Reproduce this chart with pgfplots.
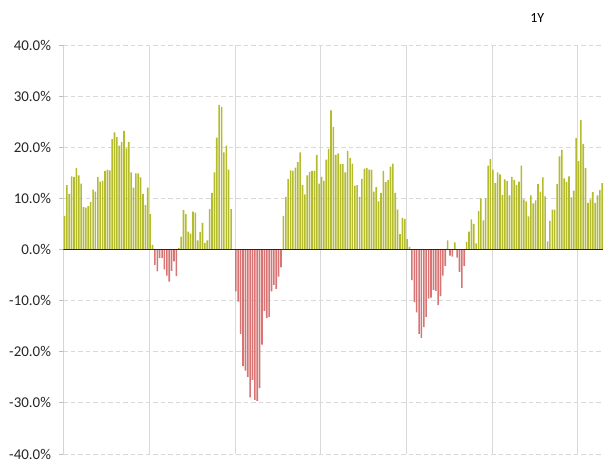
\documentclass[border=0pt]{standalone}
\usepackage{pgfplots}
\pgfplotsset{compat=1.18}
\usepackage{pgfplotstable}
\usepackage{fontspec}
\setmainfont{Carlito}
\definecolor{barG}{RGB}{180,188,45}
\definecolor{barR}{RGB}{216,116,116}
\definecolor{gridc}{RGB}{217,217,217}
\definecolor{axc}{RGB}{190,190,190}

\pgfplotstableread{
v
6.6
12.6
10.9
14.3
14.2
15.9
14.5
12.9
8.3
8.2
8.5
9.3
11.7
11.3
14.2
13.3
13.4
15.4
15.6
15.5
21.6
22.9
22.0
20.3
21.0
23.2
19.8
21.0
15.1
12.1
14.9
14.9
14.1
10.9
8.7
12.1
6.9
0.9
-3.0
-4.3
-1.7
-1.7
-3.9
-5.1
-6.3
-4.2
-2.3
-5.2
0.3
2.5
7.7
6.9
3.5
3.1
7.4
7.2
1.8
3.4
5.2
1.3
1.8
7.9
11.1
15.1
21.9
28.3
27.9
19.0
20.3
15.6
7.9
0
-8.2
-10.2
-16.5
-22.8
-23.7
-24.9
-28.9
-25.5
-29.4
-29.6
-27.1
-18.6
-12.0
-13.4
-13.2
-8.2
-6.9
-7.7
-5.3
-3.5
6.6
10.3
13.8
15.5
15.4
16.0
17.1
19.0
12.6
10.8
14.5
15.2
15.4
15.4
18.5
12.9
14.2
13.4
17.6
19.7
27.2
24.0
18.5
18.8
16.7
16.7
15.1
19.3
17.9
16.8
12.5
12.6
10.3
13.8
15.8
15.9
15.6
15.6
11.3
12.2
9.4
11.1
15.4
13.2
13.6
16.2
16.8
11.1
7.8
3.0
6.2
6.0
2.1
0.5
-6.0
-10.3
-12.3
-16.5
-17.3
-15.2
-13.2
-9.6
-9.4
-7.9
-8.1
-10.9
-9.1
-5.1
-3.2
1.8
-1.2
-1.4
1.4
-1.6
-4.4
-7.5
-3.2
1.5
3.5
5.9
5.0
1.2
7.5
10.0
5.7
10.0
16.4
17.7
15.6
13.0
15.1
14.7
10.7
13.7
13.4
10.6
14.2
13.6
12.6
13.3
16.4
9.8
9.4
6.5
10.6
9.0
9.6
12.8
11.3
14.1
10.4
1.6
5.6
7.8
7.8
12.8
18.2
19.5
13.9
13.2
14.3
10.2
11.5
21.8
17.3
25.3
20.6
15.9
9.1
9.8
11.2
9.1
10.6
11.6
13.0
}\data

\begin{document}
\begin{tikzpicture}
\path[use as bounding box] (-63.5bp,-7bp) rectangle (539.5bp,454bp);
\begin{axis}[
  at={(0,0)}, anchor=south west, scale only axis,
  width=539.5bp, height=409bp,
  xmin=-0.42, xmax=226.3, ymin=-40, ymax=40,
  axis line style={draw=none},
  xtick={35.7,71.7,107.7,143.7,179.7,215.7},
  xticklabels={},
  xmajorgrids, x grid style={gridc, line width=1bp},
  major x tick style={draw=none},
  ytick={-40,-30,...,40},
  ymajorgrids, y grid style={gridc, dash pattern=on 4.5bp off 3bp, line width=0.9bp},
  ytick pos=left, tick align=outside, major tick length=4bp,
  major y tick style={axc, line width=0.8bp},
  /pgf/number format/assume math mode=true,
  yticklabel={\pgfmathprintnumber[fixed,fixed zerofill,precision=1]{\tick}\%},
  yticklabel style={font=\fontsize{15}{16}\selectfont, text=black!85, xshift=-5bp, inner ysep=0.5bp},
  title={1Y},
  title style={at={(0.878,1.052)}, anchor=center, font=\fontsize{14}{16}\selectfont, text=black},
  unbounded coords=discard,
]
\addplot[ybar, bar width=1.6bp, bar shift=0pt, fill=barG, draw=none,
  y filter/.expression={y<0 ? nan : y}] table[x expr=\coordindex, y=v] {\data};
\addplot[ybar, bar width=1.6bp, bar shift=0pt, fill=barR, draw=none,
  y filter/.expression={y>=0 ? nan : y}] table[x expr=\coordindex, y=v] {\data};
\draw[axc, line width=1bp] (rel axis cs:0,0) -- (rel axis cs:0,1);
\draw[black!85, line width=1bp] (rel axis cs:0,0.5) -- (rel axis cs:1,0.5);
\end{axis}
\end{tikzpicture}
\end{document}
